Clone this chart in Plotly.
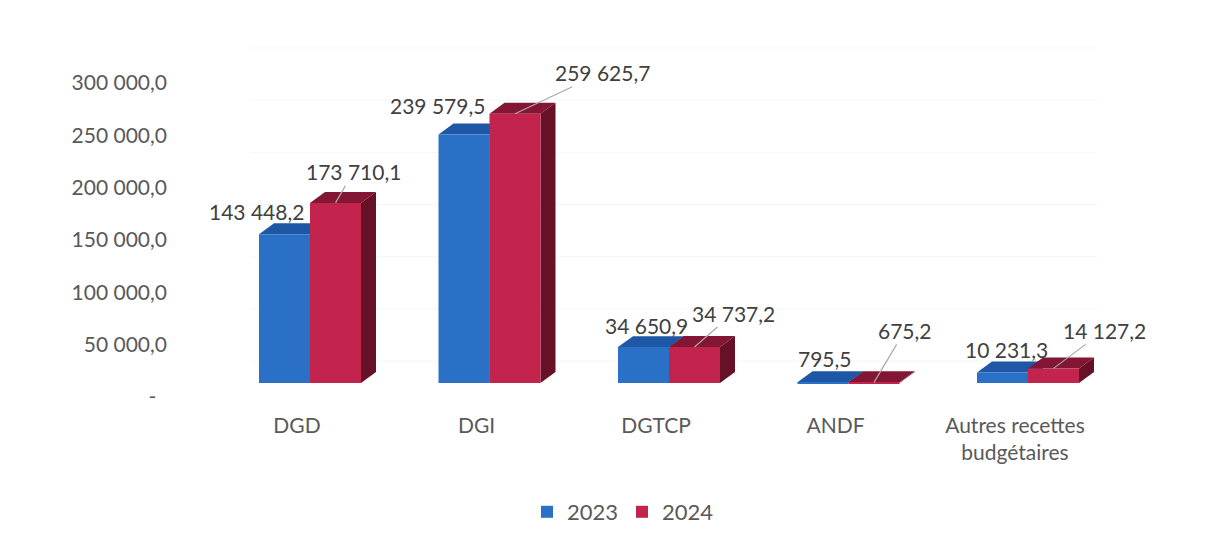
import plotly.graph_objects as go

# ---- data -------------------------------------------------------------
categories = ["DGD", "DGI", "DGTCP", "ANDF", "Autres recettes<br>budgétaires"]
years = ["2023", "2024"]
values_2023 = [143448.2, 239579.5, 34650.9, 795.5, 10231.3]
values_2024 = [173710.1, 259625.7, 34737.2, 675.2, 14127.2]

y_tickvals = [0, 50000, 100000, 150000, 200000, 250000, 300000]
y_ticktext = ["-\u00a0\u00a0", "50 000,0", "100 000,0", "150 000,0",
              "200 000,0", "250 000,0", "300 000,0"]

# ---- layout geometry (pixels) ----------------------------------------
W, H = 1208, 544
PL, PR, PT, PB = 176, 1130, 40, 400          # plot area edges
CAT_PX = 179.5                               # pixels per category
FIRST_BAR_PX = 310                           # centre of first column pair
LABEL_SHIFT_PX = 13                          # category labels sit left of columns
BAR_ZERO, BAR_SCALE = 384, 1.04e-3           # front faces of the columns
LABEL_ZERO, LABEL_SCALE = 398, 315 / 300000  # value scale printed at left
WALL_ZERO, WALL_SCALE = 362, 314 / 300000    # gridlines on the back wall
DEPTH_DX, DEPTH_DY = 15, 11                  # 3D depth offset in pixels
BAR_W = 51 / CAT_PX                          # one column width (category units)


def to_bar_y(v, zero_px, scale):
    """Value on a perspective plane -> value on the column axis."""
    px = zero_px - scale * v
    return (BAR_ZERO - px) / BAR_SCALE


def fr(v):
    return f"{v:,.1f}".replace(",", " ").replace(".", ",")


FONT = "Lato"
GREY = "#595959"
DARK = "#404040"

colors = {
    "2023": dict(front="#2a70c6", top="#1d57a6", side="#174a8e"),
    "2024": dict(front="#c2244d", top="#821634", side="#661128"),
}

series = {"2023": values_2023, "2024": values_2024}
offsets = {"2023": -BAR_W, "2024": 0.0}

fig = go.Figure()

ddx = DEPTH_DX / CAT_PX
ddy = DEPTH_DY / BAR_SCALE
shapes = []

# faint back-wall gridlines
for v in y_tickvals:
    yv = to_bar_y(v, WALL_ZERO, WALL_SCALE)
    shapes.append(dict(type="line", xref="paper", yref="y",
                       x0=(250 - PL) / (PR - PL), x1=(1097 - PL) / (PR - PL),
                       y0=yv, y1=yv, line=dict(color="#f6f6f6", width=1),
                       layer="below"))

for yr in years:
    vals = series[yr]
    c = colors[yr]
    xs = list(range(len(categories)))
    fig.add_trace(go.Bar(
        x=xs, y=vals, name=yr,
        offset=offsets[yr], width=BAR_W,
        marker=dict(color=c["front"], line=dict(width=0)),
        hoverinfo="skip",
    ))
    # top and side faces of each column
    for i, v in enumerate(vals):
        xl = i + offsets[yr]
        xr = xl + BAR_W
        shapes.append(dict(
            type="path", xref="x", yref="y", layer="below",
            path=f"M{xl},{v} L{xr},{v} L{xr + ddx},{v + ddy} L{xl + ddx},{v + ddy} Z",
            fillcolor=c["top"], line=dict(width=0)))
        shapes.append(dict(
            type="path", xref="x", yref="y", layer="below",
            path=f"M{xr},0 L{xr},{v} L{xr + ddx},{v + ddy} L{xr + ddx},{ddy} Z",
            fillcolor=c["side"], line=dict(width=0)))

# value labels
shift_2023 = [(-28, 23), (-27, 29), (3, 22), (2, 24), (4, 23)]
lead_2024 = [(18, -31), (87, -41), (39, -34), (31, -52), (51, -38)]
annotations = []
for i, v in enumerate(values_2023):
    dx, dy = shift_2023[i]
    annotations.append(dict(
        x=i - BAR_W / 2, y=v, xref="x", yref="y", text=fr(v),
        showarrow=False, xanchor="center", yanchor="middle",
        xshift=dx, yshift=dy, font=dict(family=FONT, size=21, color=DARK)))
for i, v in enumerate(values_2024):
    ax, ay = lead_2024[i]
    annotations.append(dict(
        x=i + BAR_W / 2, y=v, xref="x", yref="y", text=fr(v),
        showarrow=True, arrowhead=0, arrowwidth=1.2, arrowcolor="#a9a9a9",
        ax=ax, ay=ay, standoff=0,
        font=dict(family=FONT, size=21, color=DARK)))

x0 = -(FIRST_BAR_PX - PL) / CAT_PX
y_lo = -(PB - BAR_ZERO) / BAR_SCALE
y_hi = (BAR_ZERO - PT) / BAR_SCALE

fig.update_layout(
    width=W, height=H,
    margin=dict(l=PL, r=W - PR, t=PT, b=H - PB),
    paper_bgcolor="white", plot_bgcolor="white",
    font=dict(family=FONT, color=GREY),
    barmode="overlay",
    showlegend=True,
    legend=dict(orientation="h", x=(622 - PL) / (PR - PL), xanchor="center",
                y=(PB - 512) / (PB - PT), yanchor="middle",
                font=dict(family=FONT, size=22, color=GREY),
                itemwidth=30, entrywidth=50, entrywidthmode="pixels",
                traceorder="normal"),
    xaxis=dict(range=[x0, x0 + (PR - PL) / CAT_PX], tickmode="array",
               tickvals=[i - LABEL_SHIFT_PX / CAT_PX for i in range(len(categories))],
               ticktext=categories,
               showgrid=False, zeroline=False, showline=False, ticks="",
               ticklabelstandoff=12,
               tickfont=dict(family=FONT, size=21, color=GREY)),
    yaxis=dict(range=[y_lo, y_hi], tickmode="array",
               tickvals=[to_bar_y(v, LABEL_ZERO, LABEL_SCALE) for v in y_tickvals],
               ticktext=y_ticktext,
               showgrid=False, zeroline=False, showline=False, ticks="",
               ticklabelstandoff=8,
               tickfont=dict(family=FONT, size=21, color=GREY)),
    shapes=shapes,
    annotations=annotations,
)

fig.write_html("out.html")
